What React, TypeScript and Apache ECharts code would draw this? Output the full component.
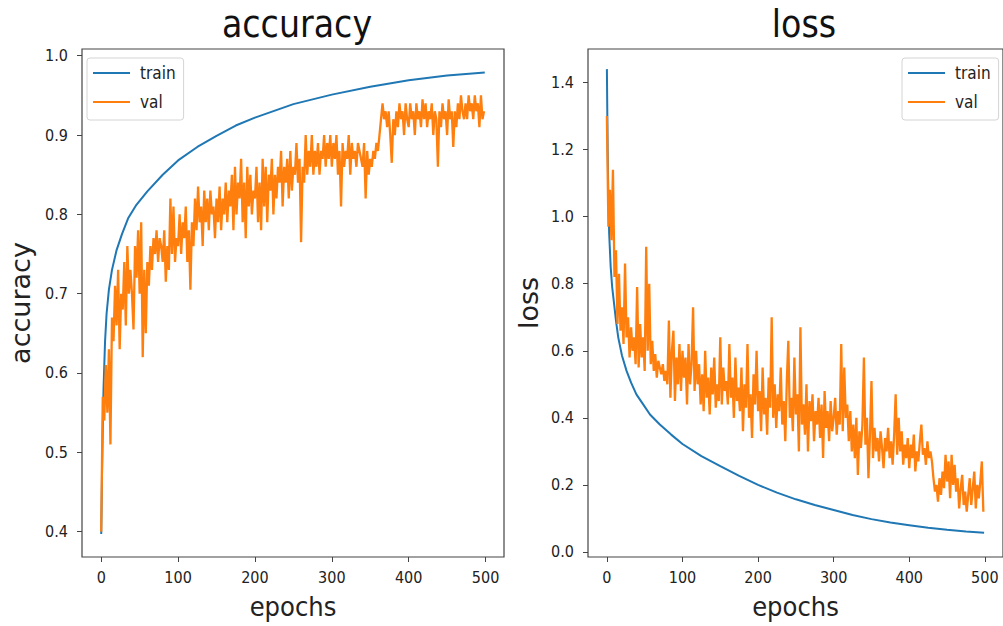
import React, { useEffect, useRef } from "react";
import * as echarts from "echarts";

const FONT = "'DejaVu Sans Condensed', 'DejaVu Sans', sans-serif";
const FONT_V = "'DejaVu Sans', sans-serif";
const BLUE = "#1f77b4";
const ORANGE = "#ff7f0e";

// x ticks & y ticks
const xTicks = [0, 100, 200, 300, 400, 500];
const accTicks = [0.4, 0.5, 0.6, 0.7, 0.8, 0.9, 1.0];
const lossTicks = [0, 0.2, 0.4, 0.6, 0.8, 1.0, 1.2, 1.4];

// train accuracy (sampled epochs)
const trainAccEpochs = [0, 1, 2, 3, 5, 7, 10, 14, 20, 27, 35, 45, 60, 80, 100, 125, 150, 175, 200, 250, 300, 350, 400, 450, 499];
const trainAcc = [0.397, 0.47, 0.53, 0.58, 0.64, 0.675, 0.705, 0.73, 0.755, 0.775, 0.795, 0.811, 0.829, 0.85, 0.868, 0.885, 0.899, 0.912, 0.922, 0.939, 0.951, 0.961, 0.969, 0.975, 0.979];

// val accuracy, every 2 epochs (0..498)
const valStep = 2;
const valAcc = [
  0.40, 0.57, 0.54, 0.61, 0.55, 0.63, 0.51, 0.67, 0.64, 0.71,
  0.66, 0.73, 0.63, 0.70, 0.68, 0.74, 0.66, 0.76, 0.70, 0.73,
  0.70, 0.655, 0.76, 0.72, 0.78, 0.70, 0.79, 0.62, 0.73, 0.65,
  0.74, 0.71, 0.76, 0.73, 0.77, 0.75, 0.78, 0.74, 0.77, 0.76,
  0.74, 0.78, 0.715, 0.76, 0.73, 0.82, 0.75, 0.81, 0.74, 0.77,
  0.76, 0.80, 0.75, 0.79, 0.77, 0.81, 0.74, 0.78, 0.705, 0.79,
  0.76, 0.82, 0.78, 0.835, 0.79, 0.81, 0.76, 0.83, 0.79, 0.82,
  0.78, 0.83, 0.80, 0.81, 0.77, 0.82, 0.79, 0.835, 0.78, 0.82,
  0.80, 0.84, 0.79, 0.83, 0.81, 0.85, 0.78, 0.86, 0.80, 0.84,
  0.82, 0.87, 0.79, 0.84, 0.77, 0.86, 0.81, 0.85, 0.80, 0.83,
  0.82, 0.86, 0.79, 0.84, 0.78, 0.87, 0.81, 0.86, 0.79, 0.85,
  0.83, 0.87, 0.80, 0.85, 0.82, 0.86, 0.84, 0.88, 0.81, 0.86,
  0.84, 0.87, 0.82, 0.88, 0.83, 0.86, 0.85, 0.89, 0.84, 0.87,
  0.765, 0.86, 0.84, 0.90, 0.85, 0.88, 0.86, 0.90, 0.85, 0.88,
  0.86, 0.89, 0.85, 0.88, 0.87, 0.90, 0.86, 0.89, 0.87, 0.90,
  0.86, 0.89, 0.87, 0.90, 0.85, 0.88, 0.81, 0.89, 0.86, 0.88,
  0.87, 0.90, 0.85, 0.89, 0.87, 0.88, 0.86, 0.89, 0.88, 0.87,
  0.86, 0.89, 0.82, 0.88, 0.85, 0.87, 0.86, 0.88, 0.87, 0.89,
  0.88, 0.90, 0.92, 0.94, 0.92, 0.93, 0.91, 0.93, 0.90, 0.865,
  0.92, 0.90, 0.93, 0.91, 0.94, 0.92, 0.93, 0.90, 0.94, 0.92,
  0.91, 0.94, 0.92, 0.93, 0.90, 0.94, 0.92, 0.93, 0.91, 0.945,
  0.92, 0.94, 0.91, 0.93, 0.92, 0.94, 0.90, 0.93, 0.92, 0.86,
  0.93, 0.91, 0.94, 0.92, 0.93, 0.90, 0.945, 0.92, 0.93, 0.885,
  0.93, 0.91, 0.94, 0.92, 0.95, 0.93, 0.92, 0.94, 0.92, 0.95,
  0.93, 0.94, 0.92, 0.95, 0.93, 0.94, 0.91, 0.95, 0.92, 0.93,
];

// train loss (sampled epochs)
const trainLossEpochs = [0, 1, 2, 3, 5, 7, 9, 12, 15, 20, 26, 32, 39, 48, 57, 70, 85, 100, 125, 150, 175, 200, 225, 250, 275, 300, 325, 350, 375, 400, 425, 450, 475, 499];
const trainLoss = [1.44, 1.2, 1.05, 0.95, 0.85, 0.79, 0.75, 0.69, 0.64, 0.585, 0.54, 0.505, 0.47, 0.44, 0.41, 0.38, 0.35, 0.322, 0.286, 0.256, 0.227, 0.2, 0.177, 0.157, 0.14, 0.125, 0.11, 0.098, 0.088, 0.08, 0.072, 0.066, 0.061, 0.057];

// val loss, every 2 epochs (0..498)
const valLoss = [
  1.30, 0.97, 1.08, 0.93, 1.14, 0.82, 0.90, 0.68, 0.83, 0.66,
  0.73, 0.62, 0.86, 0.64, 0.70, 0.58, 0.67, 0.60, 0.64, 0.56,
  0.79, 0.55, 0.68, 0.58, 0.64, 0.54, 0.91, 0.60, 0.80, 0.56,
  0.63, 0.54, 0.59, 0.52, 0.57, 0.55, 0.53, 0.56, 0.51, 0.54,
  0.50, 0.69, 0.46, 0.60, 0.66, 0.45, 0.58, 0.50, 0.62, 0.48,
  0.60, 0.52, 0.58, 0.44, 0.62, 0.50, 0.56, 0.73, 0.48, 0.60,
  0.50, 0.56, 0.44, 0.53, 0.42, 0.60, 0.46, 0.52, 0.41, 0.55,
  0.47, 0.58, 0.43, 0.50, 0.45, 0.64, 0.44, 0.55, 0.48, 0.51,
  0.44, 0.62, 0.46, 0.52, 0.40, 0.58, 0.45, 0.49, 0.42, 0.55,
  0.36, 0.50, 0.43, 0.62, 0.40, 0.47, 0.34, 0.53, 0.44, 0.60,
  0.42, 0.48, 0.36, 0.55, 0.41, 0.46, 0.35, 0.52, 0.43, 0.70,
  0.40, 0.50, 0.37, 0.47, 0.42, 0.55, 0.38, 0.45, 0.33, 0.51,
  0.63, 0.40, 0.46, 0.36, 0.58, 0.41, 0.47, 0.30, 0.67, 0.38,
  0.44, 0.35, 0.50, 0.30, 0.45, 0.39, 0.47, 0.33, 0.42, 0.38,
  0.46, 0.34, 0.44, 0.28, 0.48, 0.37, 0.42, 0.33, 0.45, 0.36,
  0.40, 0.46, 0.35, 0.42, 0.38, 0.62, 0.36, 0.55, 0.40, 0.44,
  0.33, 0.42, 0.30, 0.38, 0.28, 0.40, 0.23, 0.36, 0.31, 0.38,
  0.58, 0.32, 0.40, 0.22, 0.35, 0.51, 0.28, 0.37, 0.30, 0.34,
  0.27, 0.36, 0.31, 0.25, 0.34, 0.30, 0.37, 0.28, 0.33, 0.26,
  0.35, 0.47, 0.29, 0.40, 0.30, 0.36, 0.26, 0.32, 0.28, 0.34,
  0.25, 0.32, 0.28, 0.35, 0.24, 0.30, 0.27, 0.33, 0.38, 0.29,
  0.31, 0.26, 0.33, 0.28, 0.30, 0.27, 0.22, 0.18, 0.20, 0.15,
  0.22, 0.17, 0.24, 0.19, 0.29, 0.21, 0.27, 0.16, 0.29, 0.20,
  0.26, 0.18, 0.22, 0.13, 0.19, 0.23, 0.14, 0.18, 0.12, 0.17,
  0.22, 0.14, 0.19, 0.24, 0.13, 0.20, 0.16, 0.21, 0.27, 0.12,
];

const pairs = (xs: number[], ys: number[]) => ys.map((y, i) => [xs[i], y]);
const stepPairs = (ys: number[], step: number) => ys.map((y, i) => [i * step, y]);

const TEXT = "#222";
const SPINE = "#444";

function xAxisCfg(gridIndex: number) {
  return {
    type: "value",
    gridIndex,
    min: -25,
    max: 524,
    name: "epochs",
    nameLocation: "middle",
    nameGap: 36,
    nameTextStyle: { color: TEXT, fontSize: 27, fontFamily: FONT },
    axisLine: { show: false, onZero: false },
    splitLine: { show: false },
    axisTick: { show: true, length: 5, customValues: xTicks, lineStyle: { color: SPINE, width: 1 } },
    axisLabel: { customValues: xTicks, margin: 12, color: TEXT, fontSize: 16, fontFamily: FONT, formatter: (v: number) => String(v) },
  };
}

function yAxisCfg(gridIndex: number, name: string, min: number, max: number, ticks: number[], gap: number) {
  return {
    type: "value",
    gridIndex,
    min,
    max,
    name,
    nameLocation: "middle",
    nameGap: gap,
    nameTextStyle: { color: TEXT, fontSize: 27, fontFamily: FONT_V },
    axisLine: { show: false, onZero: false },
    splitLine: { show: false },
    axisTick: { show: true, length: 5, customValues: ticks, lineStyle: { color: SPINE, width: 1 } },
    axisLabel: { customValues: ticks, margin: 14, color: TEXT, fontSize: 16, fontFamily: FONT, formatter: (v: number) => v.toFixed(1) },
  };
}

function legendCfg(left: number) {
  return {
    left,
    top: 58,
    orient: "vertical",
    data: ["train", "val"],
    icon: "rect",
    itemWidth: 37,
    itemHeight: 2,
    itemGap: 9,
    padding: [5, 8, 8, 6],
    backgroundColor: "rgba(255,255,255,0.85)",
    borderColor: "#d4d4d4",
    borderWidth: 1,
    borderRadius: 3,
    selectedMode: false,
    textStyle: { color: TEXT, fontSize: 17, fontFamily: FONT, lineHeight: 20, padding: [0, 0, 0, 5] },
  };
}

const lineSeries = (name: string, color: string, idx: number, data: number[][], width: number) => ({
  type: "line",
  name,
  xAxisIndex: idx,
  yAxisIndex: idx,
  data,
  showSymbol: false,
  symbol: "none",
  lineStyle: { color, width },
  itemStyle: { color },
  emphasis: { disabled: true },
});

export default function App() {
  const ref = useRef<HTMLDivElement>(null);
  useEffect(() => {
    const chart = echarts.init(ref.current!, null, { renderer: "svg" });
    const option = {
      animation: false,
      backgroundColor: "#fff",
      title: [
        { text: "accuracy", left: 292, top: 1, textAlign: "center", textStyle: { color: "#111", fontSize: 37, fontWeight: "normal", fontFamily: FONT } },
        { text: "loss", left: 799, top: 1, textAlign: "center", textStyle: { color: "#111", fontSize: 37, fontWeight: "normal", fontFamily: FONT } },
      ],
      grid: [
        { left: 82, top: 49, width: 422, height: 508, show: true, borderColor: SPINE, borderWidth: 1.2, backgroundColor: "#fff", containLabel: false },
        { left: 588, top: 49, width: 422, height: 508, show: true, borderColor: SPINE, borderWidth: 1.2, backgroundColor: "#fff", containLabel: false },
      ],
      legend: [legendCfg(87), legendCfg(902)],
      xAxis: [xAxisCfg(0), xAxisCfg(1)],
      yAxis: [
        yAxisCfg(0, "accuracy", 0.368, 1.0085, accTicks, 48),
        yAxisCfg(1, "loss", -0.015, 1.5, lossTicks, 46),
      ],
      series: [
        lineSeries("train", BLUE, 0, pairs(trainAccEpochs, trainAcc), 2),
        lineSeries("val", ORANGE, 0, stepPairs(valAcc, valStep), 2.3),
        lineSeries("train", BLUE, 1, pairs(trainLossEpochs, trainLoss), 2),
        lineSeries("val", ORANGE, 1, stepPairs(valLoss, valStep), 2.3),
      ],
    };
    chart.setOption(option as any);
    return () => chart.dispose();
  }, []);
  return (
    <div
      ref={ref}
      style={{ position: "absolute", left: 0, top: 0, width: 1003, height: 626, background: "#fff" }}
    />
  );
}
